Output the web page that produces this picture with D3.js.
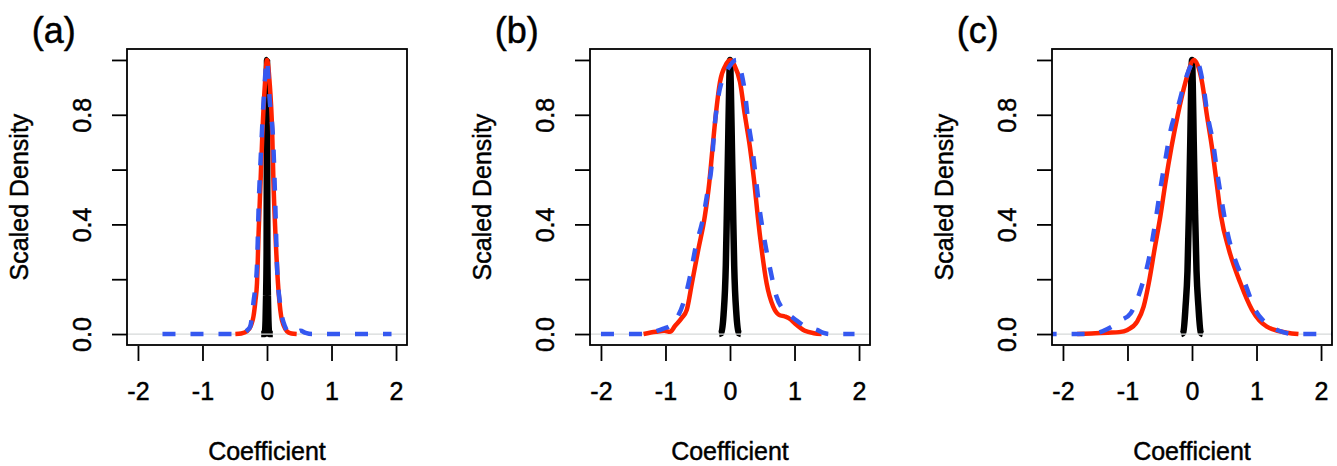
<!DOCTYPE html>
<html lang="en">

<head>
    <meta charset="UTF-8">
    <title>Scaled Density of Coefficients</title>
    <script src="https://d3js.org/d3.v7.min.js"></script>
    <style>
        body {
            margin: 0;
            background: white;
        }

        svg text {
            font-family: "Liberation Sans", Arial, sans-serif;
            fill: black;
            stroke: black;
            stroke-width: 0.45px;
        }

        .tick line {
            stroke: black;
            stroke-width: 1.8px;
        }
    </style>
</head>

<body>
    <div id="chart"></div>

    <script>
        // panel labels and axis ticks
        const panelLabels = ["(a)", "(b)", "(c)"];
        const xTicks = [-2, -1, 0, 1, 2];
        const yTicks = [0, 0.2, 0.4, 0.6, 0.8, 1.0];
        const yLabelled = [0, 0.4, 0.8];

        // densities, [coefficient, scaled density]
        const blackA = [[-0.09, 0], [-0.035, 0], [-0.022, 0.05], [-0.014, 0.14], [-0.006, 0.3], [-0.002, 0.7], [0, 1],
            [0.002, 0.7], [0.006, 0.3], [0.014, 0.14], [0.022, 0.05], [0.035, 0], [0.09, 0]];
        const redA = [[-0.49, 0], [-0.4, 0.002], [-0.31, 0.01], [-0.25, 0.03], [-0.21, 0.064], [-0.18, 0.12], [-0.155, 0.186],
            [-0.13, 0.37], [-0.1, 0.555], [-0.07, 0.74], [-0.03, 0.92], [0, 1], [0.04, 0.92], [0.08, 0.74], [0.1, 0.555],
            [0.13, 0.37], [0.17, 0.186], [0.22, 0.064], [0.26, 0.03], [0.31, 0.01], [0.38, 0.002], [0.46, 0]];
        const blueA = [[-1.62, 0], [-0.5, 0], [-0.36, 0.005], [-0.3, 0.015], [-0.26, 0.027], [-0.21, 0.115], [-0.155, 0.25],
            [-0.13, 0.46], [-0.09, 0.68], [-0.05, 0.86], [0, 1], [0.04, 0.86], [0.1, 0.68], [0.13, 0.46], [0.155, 0.25],
            [0.2, 0.115], [0.28, 0.027], [0.35, 0.005], [0.43, 0.002], [0.52, 0.012], [0.6, 0.004], [0.7, 0], [1.93, 0]];

        const blackB = [[-0.17, 0], [-0.135, 0.003], [-0.1, 0.07], [-0.065, 0.25], [-0.048, 0.45], [-0.03, 0.68], [-0.013, 0.9], [0, 1],
            [0.013, 0.9], [0.03, 0.68], [0.048, 0.45], [0.065, 0.25], [0.1, 0.07], [0.135, 0.003], [0.17, 0]];
        const redB = [[-1.34, 0], [-1.15, 0.008], [-1.02, 0.012], [-0.93, 0.008], [-0.85, 0.03], [-0.75, 0.058], [-0.67, 0.088],
            [-0.59, 0.186], [-0.49, 0.31], [-0.39, 0.43], [-0.32, 0.555], [-0.27, 0.68], [-0.22, 0.8], [-0.155, 0.92],
            [-0.07, 0.98], [0, 1], [0.07, 0.98], [0.155, 0.92], [0.23, 0.8], [0.31, 0.68], [0.376, 0.555], [0.43, 0.43],
            [0.49, 0.31], [0.567, 0.186], [0.67, 0.1], [0.76, 0.07], [0.85, 0.064], [0.93, 0.055], [1.0, 0.04],
            [1.16, 0.012], [1.3, 0.003], [1.42, 0]];
        const blueB = [[-2.0, 0], [-1.3, 0], [-1.15, 0.01], [-1.03, 0.02], [-0.93, 0.03], [-0.82, 0.06], [-0.72, 0.115],
            [-0.62, 0.21], [-0.53, 0.32], [-0.42, 0.42], [-0.35, 0.517], [-0.28, 0.627], [-0.25, 0.725], [-0.21, 0.82],
            [-0.13, 0.92], [-0.05, 0.96], [0.1, 1.0], [0.18, 0.95], [0.23, 0.884], [0.28, 0.78], [0.345, 0.68], [0.4, 0.57],
            [0.45, 0.47], [0.53, 0.35], [0.62, 0.24], [0.72, 0.137], [0.82, 0.09], [0.95, 0.064], [1.0, 0.055],
            [1.15, 0.03], [1.35, 0.015], [1.45, 0.004], [1.55, 0], [1.93, 0]];

        const blackC = [[-0.17, 0], [-0.135, 0.005], [-0.1, 0.1], [-0.07, 0.23], [-0.047, 0.45], [-0.027, 0.7], [-0.011, 0.92], [0, 1],
            [0.011, 0.92], [0.027, 0.7], [0.047, 0.45], [0.07, 0.23], [0.1, 0.1], [0.135, 0.005], [0.17, 0]];
        const redC = [[-1.78, 0], [-1.5, 0.003], [-1.3, 0.005], [-1.13, 0.007], [-1.0, 0.015], [-0.85, 0.045], [-0.75, 0.1],
            [-0.67, 0.186], [-0.58, 0.31], [-0.49, 0.43], [-0.41, 0.555], [-0.32, 0.68], [-0.22, 0.8], [-0.1, 0.92],
            [0.03, 1.0], [0.155, 0.92], [0.23, 0.8], [0.31, 0.68], [0.38, 0.555], [0.45, 0.43], [0.57, 0.31],
            [0.75, 0.186], [0.93, 0.088], [1.16, 0.027], [1.47, 0.005], [1.65, 0]];
        const blueC = [[-2.3, 0], [-1.6, 0], [-1.39, 0.01], [-1.24, 0.027], [-1.1, 0.05], [-0.95, 0.076], [-0.8, 0.16],
            [-0.66, 0.284], [-0.57, 0.406], [-0.49, 0.53], [-0.41, 0.64], [-0.335, 0.74], [-0.205, 0.84], [-0.1, 0.93],
            [0.06, 1.0], [0.18, 0.9], [0.24, 0.8], [0.325, 0.7], [0.39, 0.59], [0.465, 0.48], [0.54, 0.38], [0.67, 0.27],
            [0.82, 0.186], [0.98, 0.088], [1.1, 0.05], [1.26, 0.022], [1.4, 0.008], [1.57, 0], [2.3, 0]];

        const panels = [
            { label: panelLabels[0], black: blackA, red: redA, blue: blueA },
            { label: panelLabels[1], black: blackB, red: redB, blue: blueB },
            { label: panelLabels[2], black: blackC, red: redC, blue: blueC }
        ];

        // layout
        const W = 1337, H = 466;
        const panelLeft = [127, 590, 1052];
        const plotTop = 49, width = 280, height = 296;

        const svg = d3.select("#chart")
            .append("svg")
            .attr("width", W)
            .attr("height", H);

        const x = d3.scaleLinear().domain([-2.17, 2.17]).range([0, width]);
        const y = d3.scaleLinear().domain([-0.04, 1.04]).range([height, 0]);

        const line = d3.line()
            .x(d => x(d[0]))
            .y(d => y(d[1]))
            .curve(d3.curveMonotoneX);

        panels.forEach((p, i) => {
            const g = svg.append("g")
                .attr("transform", `translate(${panelLeft[i]},${plotTop})`);

            g.append("clipPath")
                .attr("id", "clip" + i)
                .append("rect")
                .attr("width", width)
                .attr("height", height);

            const plot = g.append("g").attr("clip-path", `url(#clip${i})`);

            // black (thick solid)
            plot.append("path")
                .datum(p.black)
                .attr("d", line)
                .attr("fill", "none")
                .attr("stroke", "black")
                .attr("stroke-width", 6.5)
                .attr("stroke-linejoin", "bevel");

            // zero line
            plot.append("line")
                .attr("x1", 0).attr("x2", width)
                .attr("y1", y(0)).attr("y2", y(0))
                .attr("stroke", "#d6d9d9")
                .attr("stroke-width", 1.3);

            // red solid
            plot.append("path")
                .datum(p.red)
                .attr("d", line)
                .attr("fill", "none")
                .attr("stroke", "#ff2200")
                .attr("stroke-width", 4.5)
                .attr("stroke-linejoin", "round");

            // blue dashed
            plot.append("path")
                .datum(p.blue)
                .attr("d", line)
                .attr("fill", "none")
                .attr("stroke", "#3558f0")
                .attr("stroke-width", 4.5)
                .attr("stroke-dasharray", "13,15");

            // box
            g.append("rect")
                .attr("width", width)
                .attr("height", height)
                .attr("fill", "none")
                .attr("stroke", "black")
                .attr("stroke-width", 1.8);

            // y axis
            const yAxis = g.append("g")
                .call(d3.axisLeft(y)
                    .tickValues(yTicks)
                    .tickSize(15)
                    .tickFormat(d => yLabelled.includes(d) ? d.toFixed(1) : ""));
            yAxis.select(".domain").remove();
            yAxis.selectAll("text")
                .attr("transform", "rotate(-90)")
                .attr("x", 0)
                .attr("y", -36.5)
                .attr("dy", null)
                .attr("text-anchor", "middle")
                .style("font-size", "25px");

            // x axis (plain hyphen for negatives, as in the original)
            const xAxis = g.append("g")
                .attr("transform", `translate(0,${height + 1})`)
                .call(d3.axisBottom(x)
                    .tickValues(xTicks)
                    .tickSize(15)
                    .tickFormat(d => String(d)));
            xAxis.select(".domain").remove();
            xAxis.selectAll("text")
                .attr("y", 54)
                .attr("dy", null)
                .style("font-size", "25px");

            // axis titles
            g.append("text")
                .attr("x", width / 2)
                .attr("y", 460 - plotTop)
                .attr("text-anchor", "middle")
                .style("font-size", "25px")
                .text("Coefficient");

            g.append("text")
                .attr("transform", `translate(-99,${height / 2}) rotate(-90)`)
                .attr("text-anchor", "middle")
                .style("font-size", "25px")
                .text("Scaled Density");

            // panel tag
            g.append("text")
                .attr("x", -95.3)
                .attr("y", 43 - plotTop)
                .style("font-size", "36px")
                .text(p.label);
        });
    </script>
</body>

</html>
